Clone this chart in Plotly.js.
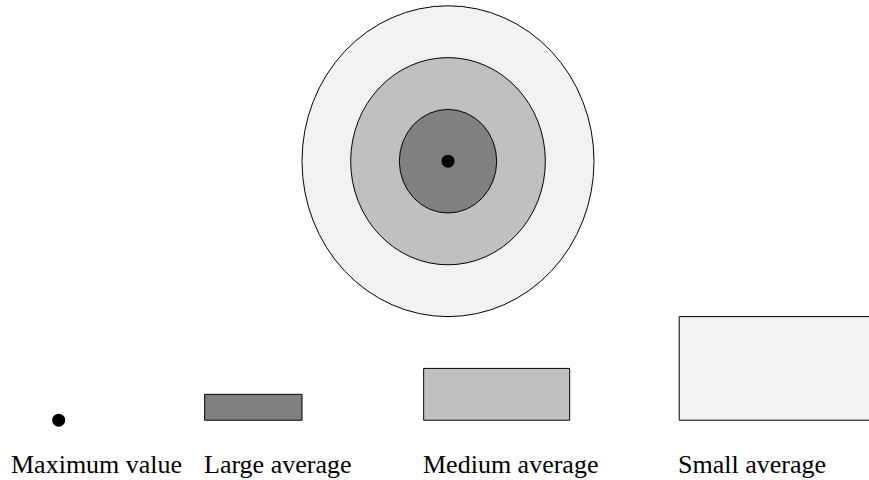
<!DOCTYPE html>
<html>
<head>
<meta charset="utf-8">
<script src="https://cdn.plot.ly/plotly-3.0.1.min.js"></script>
<style>html,body{margin:0;padding:0;background:#fff;}#chart{width:869px;height:480px;}</style>
</head>
<body>
<div id="chart"></div>
<script>
// ---- data ----
var categories = ["Maximum value", "Large average", "Medium average", "Small average"];
var ringRadii = [1, 2, 3];                 // Large, Medium, Small average rings
var ringColors = ["#808080", "#c0c0c0", "#f2f2f2"];
var maxColor = "#000000";
var legendBoxWidths = [2, 3, 4];            // legend boxes for Large, Medium, Small
var legendBoxHeights = [0.5, 1, 2];

// ---- layout constants ----
var center = {x: 0, y: 0};
var legendBaseY = -5;
var legendLefts = [-5, -0.5, 4.75];
var legendDotX = -8;
var labelXs = [-9.02, -5.06, -0.56, 4.69];
var labelY = -5.86;

var shapes = [];
// rings: largest first so smaller ones are on top
for (var i = ringRadii.length - 1; i >= 0; i--) {
  var r = ringRadii[i];
  shapes.push({type: "circle", xref: "x", yref: "y", layer: "below",
    x0: center.x - r, x1: center.x + r, y0: center.y - r, y1: center.y + r,
    fillcolor: ringColors[i], line: {color: "#000", width: 1}});
}
// legend boxes
for (var j = 0; j < legendBoxWidths.length; j++) {
  shapes.push({type: "rect", xref: "x", yref: "y", layer: "below",
    x0: legendLefts[j], x1: legendLefts[j] + legendBoxWidths[j],
    y0: legendBaseY, y1: legendBaseY + legendBoxHeights[j],
    fillcolor: ringColors[j], line: {color: "#000", width: 1}});
}

var annotations = categories.map(function (c, k) {
  return {text: c, x: labelXs[k], y: labelY, xref: "x", yref: "y",
    xanchor: "left", yanchor: "middle", showarrow: false,
    font: {family: "Liberation Serif", size: 26, color: "#000"}};
});

var traces = [{
  type: "scatter", mode: "markers",
  x: [center.x, legendDotX], y: [center.y, legendBaseY],
  marker: {color: maxColor, size: 13}, hoverinfo: "skip", showlegend: false
}];

var layout = {
  width: 869, height: 480,
  margin: {l: 0, r: 0, t: 0, b: 0, pad: 0},
  paper_bgcolor: "#fff", plot_bgcolor: "#fff",
  font: {family: "Liberation Serif"},
  xaxis: {range: [-9.205, 8.650], visible: false, fixedrange: true},
  yaxis: {range: [-6.154, 3.112], visible: false, fixedrange: true},
  shapes: shapes, annotations: annotations, showlegend: false
};

Plotly.newPlot("chart", traces, layout, {displayModeBar: false, staticPlot: true});
</script>
</body>
</html>
